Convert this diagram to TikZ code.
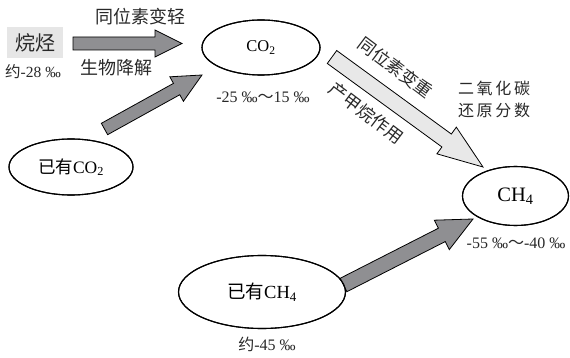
\documentclass[tikz,border=0pt]{standalone}
\usepackage{fontspec}
\setmainfont{Liberation Serif}
\newfontfamily\cjk{Noto Sans CJK SC}
\usetikzlibrary{shapes.geometric,calc}
\definecolor{darkarr}{RGB}{143,143,146}
\definecolor{lightarr}{RGB}{232,232,232}
\definecolor{boxgray}{RGB}{230,230,230}
\definecolor{ink}{RGB}{40,40,40}
\tikzset{
  oval/.style={draw,ellipse,line width=1.1pt,inner sep=0pt},
  lab/.style={inner sep=0pt,text=ink},
  cjklab/.style={lab,font=\cjk\fontsize{17.5}{20}\selectfont},
  numlab/.style={lab,font=\fontsize{16}{18}\selectfont},
  fatarr/.style={line width=0.8pt,line join=miter}
}
\newcommand\fatarrow[6]{%
  \coordinate (hb) at ($(#2)!#5!(#1)$);
  \draw[fatarr,fill=#6] ($(#1)!#3!90:(#2)$) -- ($(hb)!#3!90:(#2)$) -- ($(hb)!#4!90:(#2)$) -- (#2) -- ($(hb)!#4!-90:(#2)$) -- ($(hb)!#3!-90:(#2)$) -- ($(#1)!#3!-90:(#2)$) -- cycle;
}
\newcommand\subs[1]{\textsubscript{#1}}
\begin{document}
\begin{tikzpicture}[x=1pt,y=-1pt]
\useasboundingbox (0,0) rectangle (570,358);
% nodes
\node[lab,fill=boxgray,minimum width=56pt,minimum height=31pt,font=\cjk\fontsize{20}{22}\selectfont] (alk) at (35,42.5) {烷烃};
\node[oval,minimum width=118pt,minimum height=55pt,font=\fontsize{16.5}{18}\selectfont] (co2) at (261,47.5) {CO\subs{2}};
\node[oval,minimum width=124pt,minimum height=56pt,font=\fontsize{17.5}{20}\selectfont] (oldco2) at (71,167) {{\cjk 已有}CO\subs{2}};
\node[oval,minimum width=106pt,minimum height=59pt,font=\fontsize{20.5}{22}\selectfont] (ch4) at (515.5,196) {CH\subs{4}};
\node[oval,minimum width=167pt,minimum height=73pt,font=\fontsize{18.5}{20}\selectfont] (oldch4) at (262,292) {{\cjk 已有}CH\subs{4}};
% arrow ends
\coordinate (a1s) at (73,43.5);
\coordinate (a1e) at (182,43.5);
\coordinate (a2s) at (104.5,129);
\coordinate (a2e) at (202,75);
\coordinate (a3s) at (332,57);
\coordinate (a3e) at (483,167);
\coordinate (a4s) at (343.5,285);
\coordinate (a4e) at (473,219);
% arrows
\fatarrow{a1s}{a1e}{6.5pt}{13.5pt}{27pt}{darkarr}
\fatarrow{a2s}{a2e}{6.5pt}{14pt}{29pt}{darkarr}
\fatarrow{a3s}{a3e}{8pt}{16.5pt}{45pt}{lightarr}
\fatarrow{a4s}{a4e}{7.5pt}{16.5pt}{35pt}{darkarr}
% redraw ovals on top
\draw[line width=1.1pt] (co2.center) ellipse [x radius=59pt,y radius=27.5pt];
\draw[line width=1.1pt] (oldco2.center) ellipse [x radius=62pt,y radius=28pt];
\draw[line width=1.1pt] (ch4.center) ellipse [x radius=53pt,y radius=29.5pt];
\draw[line width=1.1pt] (oldch4.center) ellipse [x radius=83.5pt,y radius=36.5pt];
% labels
\node[cjklab,font=\cjk\fontsize{18}{20}\selectfont] (l1) at (140,17) {同位素变轻};
\node[cjklab,font=\cjk\fontsize{18}{20}\selectfont] (l2) at (116,68) {生物降解};
\node[numlab,font=\fontsize{15.5}{18}\selectfont] (l3) at (33,72) {{\cjk 约}-28 ‰};
\node[numlab] (l4) at (263,97) {-25 ‰{\cjk ～}15 ‰};
\node[cjklab,rotate=-37] (l5) at (395.5,67.5) {同位素变重};
\node[cjklab,rotate=-37] (l6) at (366.5,113) {产甲烷作用};
\node[cjklab,font=\cjk\fontsize{16}{22}\selectfont,align=center] (l7) at (494,99) {二\,氧\,化\,碳\\还\,原\,分\,数};
\node[numlab] (l8) at (516,243) {-55 ‰{\cjk ～}-40 ‰};
\node[numlab] (l9) at (267,344) {{\cjk 约}-45 ‰};
\end{tikzpicture}
\end{document}
